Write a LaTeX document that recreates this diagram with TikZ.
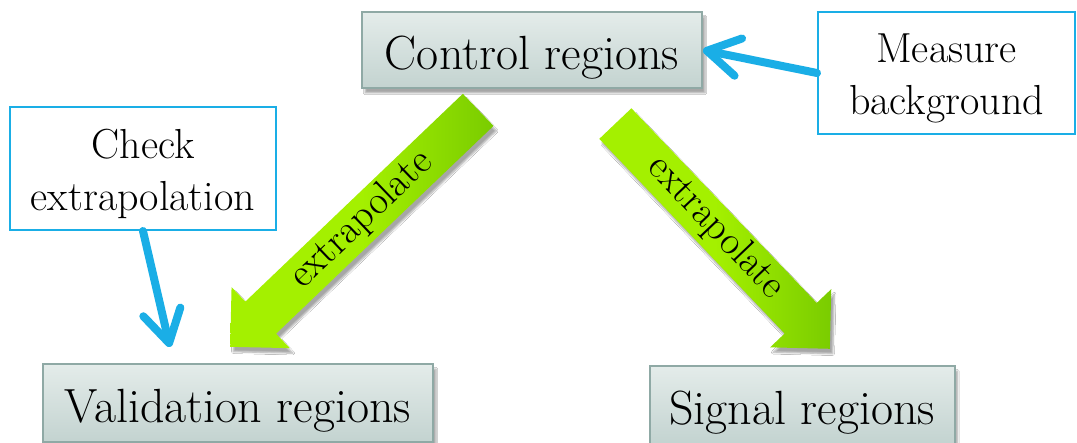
\documentclass[tikz,border=0pt]{standalone}
\usepackage{xcolor}
\usepackage{tikz}
\usetikzlibrary{positioning, shapes.arrows, shadows.blur, arrows.meta}

\definecolor{boxtop}{HTML}{E4ECEA}
\definecolor{boxbot}{HTML}{C3D3D0}
\definecolor{boxline}{HTML}{8FA9A5}
\definecolor{noteline}{HTML}{1AAEE6}
\definecolor{limelight}{HTML}{A4F000}
\definecolor{limedark}{HTML}{7ACC00}

\begin{document}
\begin{tikzpicture}[x=1pt, y=-1pt,
    region/.style={draw=boxline, line width=2pt, top color=boxtop, bottom color=boxbot, inner sep=0pt,
      font=\fontsize{48}{52}\selectfont, text height=46pt, text depth=6pt,
      blur shadow={shadow xshift=3pt, shadow yshift=-5pt, shadow blur steps=6, shadow opacity=35}},
    note/.style={draw=noteline, line width=2pt, fill=white, align=center, inner sep=0pt,
      font=\fontsize{42}{52}\selectfont, text height=90pt, text depth=6pt},
    garrow/.style={single arrow, single arrow head extend=20pt, text height=25pt, text depth=7pt,
      inner ysep=6pt, font=\fontsize{40}{44}\selectfont,
      left color=limelight, right color=limedark, middle color=limelight,
      blur shadow={shadow xshift=3pt, shadow yshift=-5pt, shadow blur steps=6, shadow opacity=35}},
    link/.style={noteline, line width=8pt, line cap=round, -{Straight Barb[length=32pt, width=38pt, round]}}]
      \useasboundingbox (0,0) rectangle (1077,443);
      \clip (0,0) rectangle (1077,443);
      \fill[white] (0,0) rectangle (1077,443);

      \node[region, minimum width=340pt, minimum height=76pt]  (CR)  at (532,   50)  {Control regions};
      \node[region, minimum width=390pt, minimum height=78pt]  (VR)  at (238,  403)  {Validation regions};
      \node[region, minimum width=305pt, minimum height=78pt]  (SR)  at (802,  405)  {Signal regions};

      \node[note, minimum width=257pt, minimum height=122pt]   (MB)  at (946.5, 73)  {Measure \\ background};
      \node[note, minimum width=266pt, minimum height=123pt]   (CE)  at (143, 168.5) {Check \\ extrapolation};

      \node[garrow, rotate=43.7, shape border rotate=180, anchor=tip, minimum height=343pt]
                                                               (XL)  at (230,  347)  {extrapolate};
      \node[garrow, rotate=-46.4, anchor=tip, minimum height=311pt]
                                                               (XR)  at (830,  349)  {extrapolate};

      \coordinate (CT) at (170, 347);

      \draw[link] (MB.west) -- (CR.east);
      \draw[link] (CE.south) -- (CT);
    \end{tikzpicture}
\end{document}
